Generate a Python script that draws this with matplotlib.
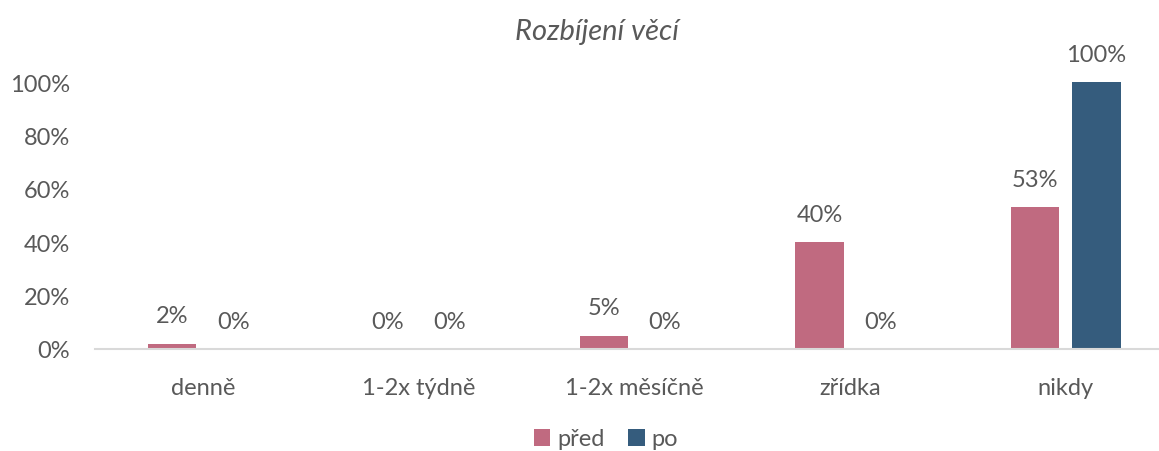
import matplotlib.pyplot as plt
import numpy as np

categories = ["denně", "1-2x týdně", "1-2x měsíčně", "zřídka", "nikdy"]
pred = [0.02, 0.0, 0.05, 0.40, 0.53]
po = [0.0, 0.0, 0.0, 0.0, 1.0]
pred_labels = ["2%", "0%", "5%", "40%", "53%"]
po_labels = ["0%", "0%", "0%", "0%", "100%"]
series_names = ["před", "po"]

PINK = "#C06A80"
BLUE = "#355C7D"
TXT = "#595959"

plt.rcParams["font.family"] = ["Lato", "DejaVu Sans"]

fig = plt.figure(figsize=(11.59, 4.52), dpi=100)
ax = fig.add_axes([95 / 1159, 102 / 452, 1 - 95 / 1159, 267 / 452])

x = np.arange(len(categories))
w = 0.224
off = 0.142
b1 = ax.bar(x - off, pred, w, color=PINK, label=series_names[0])
b2 = ax.bar(x + off, po, w, color=BLUE, label=series_names[1])

# data labels above every bar
for bars, labels in ((b1, pred_labels), (b2, po_labels)):
    for bar, lab in zip(bars, labels):
        ax.annotate(lab, (bar.get_x() + bar.get_width() / 2, bar.get_height()),
                    xytext=(0, 20), textcoords="offset points",
                    ha="center", va="center", fontsize=17, color=TXT,
                    annotation_clip=False)

ax.set_xlim(-0.50, 4.432)
ax.set_ylim(0, 1.0)
ax.set_yticks(np.arange(0, 1.01, 0.2))
ax.set_yticklabels([f"{int(round(v * 100))}%" for v in np.arange(0, 1.01, 0.2)])
ax.set_xticks(x)
ax.set_xticklabels(categories)
ax.tick_params(axis="both", length=0, labelsize=17, colors=TXT)
ax.tick_params(axis="x", pad=20)
ax.tick_params(axis="y", pad=18)

for s in ("top", "right", "left"):
    ax.spines[s].set_visible(False)
ax.spines["bottom"].set_color("#D9D9D9")
ax.spines["bottom"].set_linewidth(1.5)

fig.text(597 / 1159, 1 - 32 / 452, "Rozbíjení věcí", ha="center", va="center",
         fontsize=21, style="italic", color=TXT)

fig.legend(loc="center", bbox_to_anchor=(606 / 1159, 1 - 440 / 452), ncol=2,
           frameon=False, fontsize=17, labelcolor=TXT, handlelength=0.7,
           handleheight=0.7, handletextpad=0.3, columnspacing=1.0)

fig.savefig("out.png", dpi=100)
